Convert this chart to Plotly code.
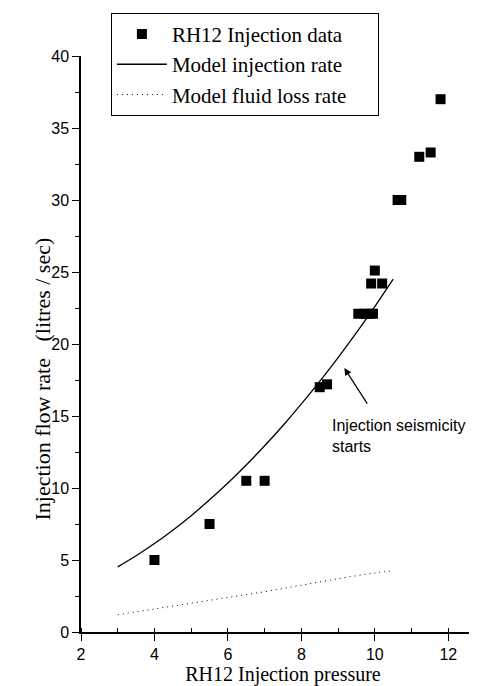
import plotly.graph_objects as go

# RH12 injection data (pressure, flow rate)
data_pressure = [4.0, 5.5, 6.5, 7.0, 8.5, 8.7, 9.55, 9.7, 9.85, 9.95, 9.9, 10.2, 10.0, 10.62, 10.72, 11.21, 11.52, 11.79]
data_flow = [5.0, 7.5, 10.5, 10.5, 17.0, 17.2, 22.1, 22.1, 22.1, 22.1, 24.2, 24.2, 25.1, 30.0, 30.0, 33.0, 33.3, 37.0]

# Model injection rate curve
model_pressure = [3.0, 3.5, 4.0, 4.5, 5.0, 5.5, 6.0, 6.5, 7.0, 7.5, 8.0, 8.5, 9.0, 9.5, 10.0, 10.5]
model_rate = [4.52, 5.29, 6.14, 7.07, 8.08, 9.18, 10.35, 11.60, 12.93, 14.34, 15.84, 17.41, 19.06, 20.79, 22.60, 24.50]

# Model fluid loss rate
loss_pressure = [3.0, 4.0, 5.0, 6.0, 7.0, 8.0, 9.0, 10.0, 10.5]
loss_rate = [1.2, 1.6, 2.0, 2.4, 2.8, 3.25, 3.7, 4.1, 4.25]

x_ticks = [2, 4, 6, 8, 10, 12]
y_ticks = [0, 5, 10, 15, 20, 25, 30, 35, 40]

SERIF = "Liberation Serif, Times New Roman, serif"
SANS = "Liberation Sans, Arial, sans-serif"
PAD = "&nbsp;" * 5

fig = go.Figure()
fig.add_trace(go.Scatter(
    x=data_pressure, y=data_flow, mode="markers", name="RH12 Injection data" + PAD,
    marker=dict(symbol="square", size=10, color="black"),
))
fig.add_trace(go.Scatter(
    x=model_pressure, y=model_rate, mode="lines", name="Model injection rate" + PAD,
    line=dict(color="black", width=1.3, shape="spline"),
))
fig.add_trace(go.Scatter(
    x=loss_pressure, y=loss_rate, mode="lines", name="Model fluid loss rate" + PAD,
    line=dict(color="black", width=1, dash="1px,4px", shape="spline"),
))

fig.add_annotation(
    x=9.17, y=18.33, ax=9.82, ay=15.76, xref="x", yref="y", axref="x", ayref="y",
    text="", showarrow=True, arrowhead=2, arrowsize=1.2, arrowwidth=1.2, arrowcolor="black",
)
fig.add_annotation(
    x=8.78, y=15.1, xref="x", yref="y", text="Injection seismicity<br>starts",
    showarrow=False, xanchor="left", yanchor="top", align="left",
    font=dict(family=SANS, size=16, color="black"),
)
fig.add_annotation(
    x=-0.13, y=0.44, xref="paper", yref="paper",
    text="Injection flow rate&nbsp;&nbsp;&nbsp;(litres / sec)", textangle=-90,
    showarrow=False, font=dict(family=SERIF, size=22, color="black"),
)

fig.update_layout(
    width=477, height=686,
    margin=dict(l=73, r=0, t=48, b=62),
    paper_bgcolor="white", plot_bgcolor="white",
    showlegend=True,
    legend=dict(
        x=0.074, y=1.075, xanchor="left", yanchor="top",
        bgcolor="white", bordercolor="black", borderwidth=1,
        font=dict(family=SERIF, size=21, color="black"),
        itemwidth=50, tracegroupgap=0,
    ),
    xaxis=dict(
        range=[2, 13], tickvals=x_ticks, showgrid=False, zeroline=False,
        showline=True, linecolor="black", linewidth=1.5,
        ticks="outside", ticklen=7, tickcolor="black", tickwidth=1.2,
        minor=dict(dtick=1, ticks="inside", ticklen=4, tickcolor="black"),
        tickfont=dict(family=SANS, size=16, color="black"),
        title=dict(text="RH12 Injection pressure", font=dict(family=SERIF, size=20, color="black"), standoff=4),
    ),
    yaxis=dict(
        range=[0, 40], tickvals=y_ticks, showgrid=False, zeroline=False,
        showline=True, linecolor="black", linewidth=1.5,
        ticks="outside", ticklen=7, tickcolor="black", tickwidth=1.2,
        minor=dict(dtick=2.5, ticks="outside", ticklen=4, tickcolor="black"),
        tickfont=dict(family=SANS, size=16, color="black"),
    ),
)

fig.write_html("out.html")
